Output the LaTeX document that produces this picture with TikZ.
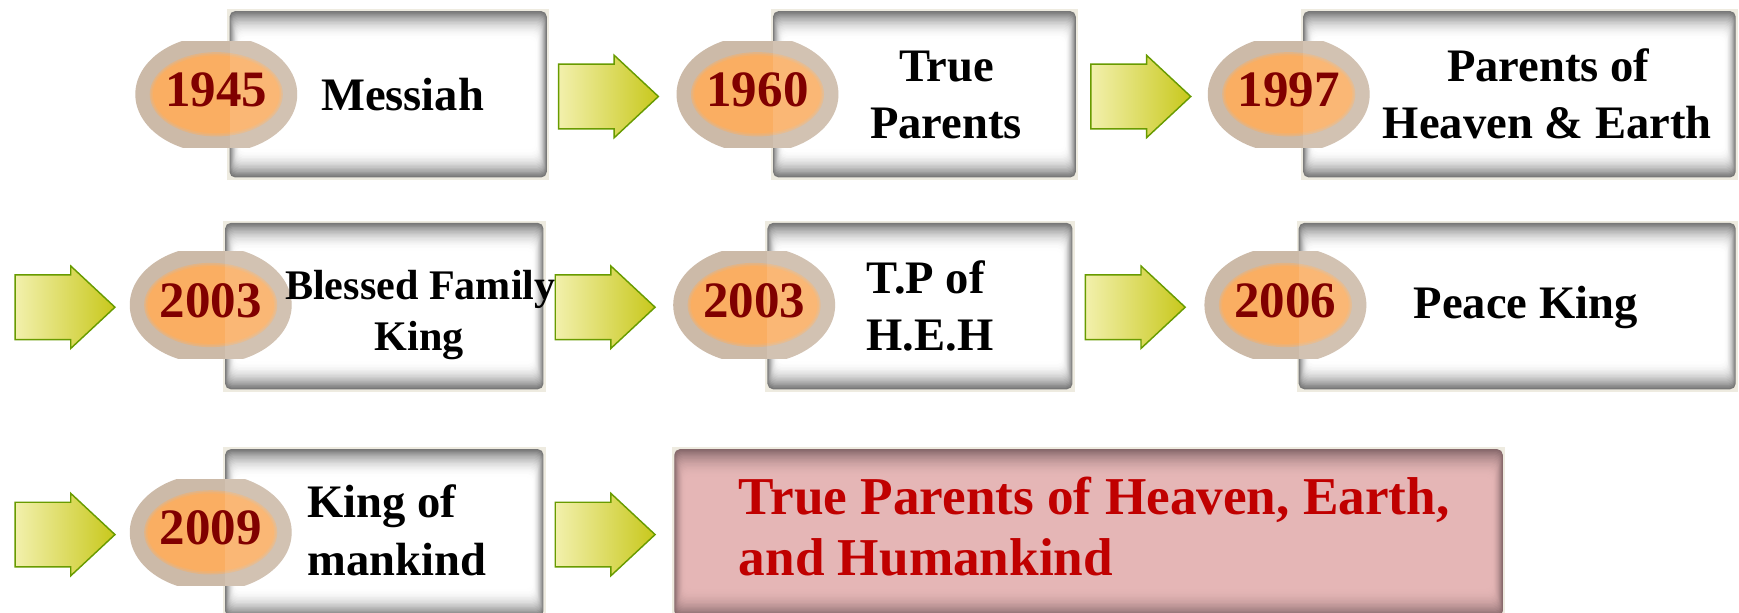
\documentclass[tikz,border=0pt]{standalone}
\usepackage{fontspec}
\setmainfont{Liberation Serif}
\usetikzlibrary{shapes.arrows}
\definecolor{yearred}{RGB}{128,0,0}
\definecolor{pinktext}{RGB}{192,0,0}
\definecolor{pinkfill}{RGB}{229,182,182}
\definecolor{pinkedge}{RGB}{135,105,108}
\definecolor{shadowgray}{RGB}{120,120,120}
\definecolor{boxrim}{RGB}{238,235,224}
\definecolor{arrowline}{RGB}{104,155,0}
\definecolor{arrowlight}{RGB}{242,240,172}
\definecolor{arrowdark}{RGB}{200,200,28}
\definecolor{ringtan}{RGB}{204,186,168}
\definecolor{coreorange}{RGB}{250,174,98}
\tikzset{
  flowarrow/.style={single arrow, draw=arrowline, line width=1.3pt,
    left color=arrowlight, right color=arrowdark,
    minimum height=90pt, single arrow head extend=8pt,
    single arrow tip angle=86, inner sep=0pt, anchor=tail},
  yeartext/.style={text=yearred, font=\fontsize{46}{50}\selectfont\bfseries, inner sep=0pt},
  labeltext/.style={font=\fontsize{42}{50}\selectfont\bfseries, inner sep=0pt, anchor=base},
  smalllabel/.style={font=\fontsize{38}{46}\selectfont\bfseries, inner sep=0pt, anchor=base},
  finaltext/.style={text=pinktext, font=\fontsize{48}{55}\selectfont\bfseries, inner sep=0pt, anchor=base west},
}
\newcommand\shaftstrut{\rule{0pt}{57pt}}
% #1 name, #2 x1, #3 y1, #4 x2, #5 y2, #6 edge colour, #7 inner colour
\newcommand\softbox[7]{%
  \fill[boxrim] ({#2-2},{#3-2}) rectangle ({#4+2},{#5+2});
  \foreach \i in {0,...,20}{%
    \pgfmathtruncatemacro\p{100*(1-(1-\i/20)*(1-\i/20))}%
    \fill[#7!\p!#6, rounded corners=5pt] ({#2+\i*0.5},{#3+\i*1.25}) rectangle ({#4-\i*0.5},{#5-\i*1.25});
  }%
  \coordinate (#1) at ({(#2+#4)/2},{(#3+#5)/2});
}
% #1 name, #2 cx, #3 cy, #4 year, #5 left edge of box, #6 box top, #7 box bottom
\newcommand\yearbadge[7]{%
  \begin{scope}
    \clip ({#2-80},{#3-48}) rectangle ({#2+80},{#3+48});
    \fill[ringtan] (#2,#3) ellipse [x radius=73, y radius=53];
  \end{scope}
  \fill[coreorange!50!ringtan] (#2,#3) ellipse [x radius=60, y radius=38];
  \fill[coreorange!78!ringtan] (#2,#3) ellipse [x radius=58.5, y radius=36.5];
  \fill[coreorange] (#2,#3) ellipse [x radius=57, y radius=35];
  \begin{scope}
    \clip ({#2-80},{#3-48}) rectangle ({#2+80},{#3+48});
    \clip (#2,#3) ellipse [x radius=73, y radius=53];
    \fill[white, opacity=0.12] (#5,#6) rectangle ({#2+80},#7);
  \end{scope}
  \node[yeartext] (#1) at (#2,{#3-4}) {#4};
}
\begin{document}
\begin{tikzpicture}[x=1pt,y=-1pt]
\useasboundingbox (0,0) rectangle (1568,552.7);
\fill[white] (0,0) rectangle (1568,552.7);
% boxes
\softbox{b1}{207}{10}{493}{160}{shadowgray}{white}
\softbox{b2}{697}{10}{970}{160}{shadowgray}{white}
\softbox{b3}{1175}{10}{1565}{160}{shadowgray}{white}
\softbox{b4}{203}{201}{490}{351}{shadowgray}{white}
\softbox{b5}{692}{201}{967}{351}{shadowgray}{white}
\softbox{b6}{1171}{201}{1565}{351}{shadowgray}{white}
\softbox{b7}{203}{405}{490}{556}{shadowgray}{white}
\softbox{b8}{608}{405}{1355}{556}{pinkedge}{pinkfill}
% year badges
\yearbadge{y1}{195}{85}{1945}{207}{10}{160}
\yearbadge{y2}{683}{85}{1960}{697}{10}{160}
\yearbadge{y3}{1162}{85}{1997}{1175}{10}{160}
\yearbadge{y4}{190}{275}{2003}{203}{201}{351}
\yearbadge{y5}{680}{275}{2003}{692}{201}{351}
\yearbadge{y6}{1159}{275}{2006}{1171}{201}{351}
\yearbadge{y7}{190}{480}{2009}{203}{405}{556}
% labels
\node[labeltext] (t1) at (363,100) {Messiah};
\node[labeltext] (t2a) at (853.5,73.5) {True};
\node[labeltext] (t2b) at (853,125) {Parents};
\node[labeltext] (t3a) at (1396,73.5) {Parents of};
\node[labeltext] (t3b) at (1395,125) {Heaven \& Earth};
\node[smalllabel] (t4a) at (379,270) {Blessed Family};
\node[smalllabel] (t4b) at (378,316) {King};
\node[labeltext, anchor=base west] (t5a) at (781,265) {T.P of};
\node[labeltext, anchor=base west] (t5b) at (781,316) {H.E.H};
\node[labeltext] (t6) at (1375.5,287) {Peace King};
\node[labeltext, anchor=base west] (t7a) at (277,467) {King of};
\node[labeltext, anchor=base west] (t7b) at (277,518.5) {mankind};
\node[finaltext] (t8a) at (666,464) {True Parents of Heaven, Earth,};
\node[finaltext] (t8b) at (666,519) {and Humankind};
% arrows
\node[flowarrow] (a1) at (503,87) {\shaftstrut};
\node[flowarrow] (a2) at (983,87) {\shaftstrut};
\node[flowarrow] (a3) at (13,277) {\shaftstrut};
\node[flowarrow] (a4) at (500,277) {\shaftstrut};
\node[flowarrow] (a5) at (978,277) {\shaftstrut};
\node[flowarrow] (a6) at (13,482) {\shaftstrut};
\node[flowarrow] (a7) at (500,482) {\shaftstrut};
\end{tikzpicture}
\end{document}
